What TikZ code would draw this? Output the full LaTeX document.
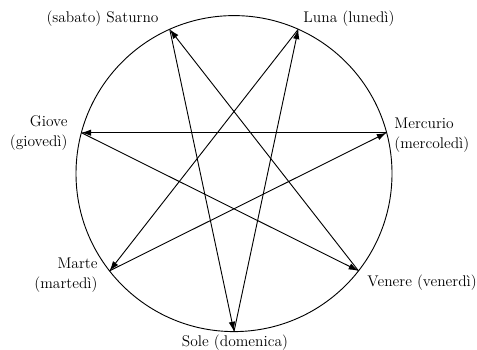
\documentclass[tikz,border=0pt]{standalone}
\usepackage{tikz}
\usetikzlibrary{arrows.meta}
\tikzset{
  giorno/.style={-{Latex[length=7pt,width=4.6pt]}},
  nome/.style={inner sep=0pt, font=\fontsize{11}{14.5}\selectfont}
}
\begin{document}
\begin{tikzpicture}[line width=0.65pt]
    \useasboundingbox (0,0) rectangle (11.925,8.75);
    % --- cerchio e sette pianeti ---
    \begin{scope}[shift={(5.85,4.41)}]
        \draw (0,0) circle (3.95);
        \coordinate (sole) at (-90:3.95);
        \coordinate (venere) at (-38:3.95);
        \coordinate (mercurio) at (15:3.95);
        \coordinate (luna) at (66:3.95);
        \coordinate (saturno) at (114:3.95);
        \coordinate (giove) at (165:3.95);
        \coordinate (marte) at (218:3.95);
    \end{scope}

    % --- ettagramma dei giorni ---
    \draw[giorno] (saturno) -- (sole);
    \draw[giorno] (sole) -- (luna);
    \draw[giorno] (luna) -- (marte);
    \draw[giorno] (marte) -- (mercurio);
    \draw[giorno] (mercurio) -- (giove);
    \draw[giorno] (giove) -- (venere);
    \draw[giorno] (venere) -- (saturno);

    % --- nomi ---
    \node[nome, anchor=east] (tsaturno) at (3.975,8.275) {(sabato) Saturno};
    \node[nome, anchor=west] (tluna) at (7.575,8.275) {Luna (lunedì)};
    \node[nome, anchor=west, align=left] (tmercurio) at (9.85,5.375) {Mercurio\\(mercoledì)};
    \node[nome, anchor=east, align=right] (tgiove) at (1.7,5.425) {Giove\\(giovedì)};
    \node[nome, anchor=east, align=right] (tmarte) at (2.45,1.875) {Marte\\(martedì)};
    \node[nome, anchor=west] (tvenere) at (9.175,1.675) {Venere (venerdì)};
    \node[nome] (tsole) at (5.875,0.175) {Sole (domenica)};
\end{tikzpicture}
\end{document}
